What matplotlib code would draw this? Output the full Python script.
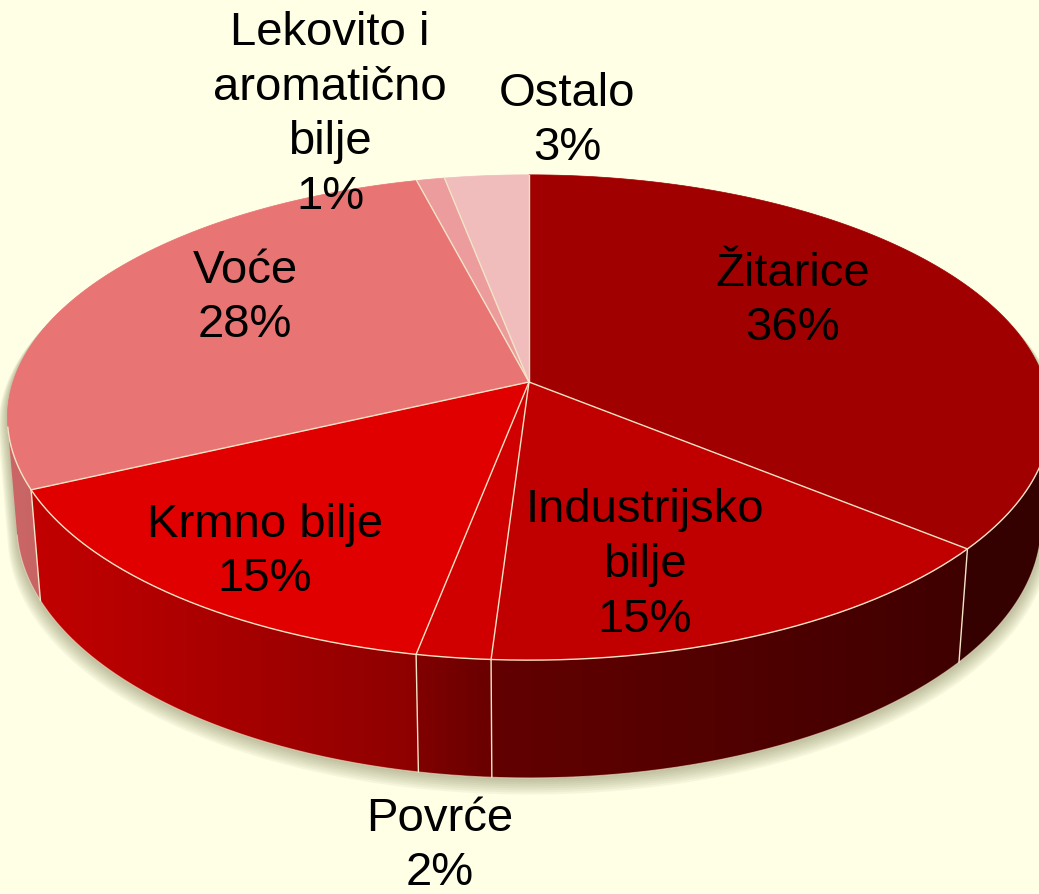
import numpy as np
import matplotlib.pyplot as plt
from matplotlib.patches import Polygon
from matplotlib.colors import to_rgb

# ── data ────────────────────────────────────────────────────────────────
categories = ["Žitarice", "Industrijsko\nbilje", "Povrće", "Krmno bilje",
              "Voće", "Lekovito i\naromatično\nbilje", "Ostalo"]
shares = [36, 15, 2, 15, 28, 1, 3]

# ── style ───────────────────────────────────────────────────────────────
TOP_COLORS = ["#A00000", "#C00000", "#D00000", "#E00000",
              "#E87474", "#EC9C9C", "#F0BCBC"]
BG = "#FFFFE6"
EDGE = "#F3E4C6"
SHADOW = "#7f7f55"

# label block centres in pixels (layout only)
LABEL_POS = [(793, 301), (645, 565), (440, 846), (265, 552),
             (245, 298), (330, 115), (567, 121)]

W, H = 1039, 895
CX, CY = 529, 383          # pie centre on the page
ELEV = np.radians(27.4)    # camera elevation
DIST = 6.07                # camera distance (pie radius = 1)
FOCAL = 3132
DEPTH = 0.235              # pie thickness


def project(x, y, z):
    c, s = np.cos(ELEV), np.sin(ELEV)
    d = DIST + y * c - z * s
    return CX + FOCAL * x / d, CY - FOCAL * (y * s + z * c) / d


def rim(t_deg, z):
    t = np.radians(t_deg)
    return project(np.cos(t), np.sin(t), z)


def wall_shade(px):
    return np.interp(px, [10, 405, 480, 960, 1040],
                     [0.88, 0.64, 0.52, 0.33, 0.33])


fig = plt.figure(figsize=(W / 100, H / 100), dpi=100)
fig.patch.set_facecolor(BG)
ax = fig.add_axes([0, 0, 1, 1])
ax.set_facecolor(BG)
ax.set_xlim(0, W)
ax.set_ylim(H, 0)
ax.axis("off")

# slice boundaries, clockwise from 12 o'clock
cum = np.concatenate([[0], np.cumsum(shares)]) / np.sum(shares)
bounds = 90 - 360 * cum

# visible part of the side wall
t_vis = np.degrees(np.arcsin(-1 / (DIST * np.cos(ELEV))))
vis_lo, vis_hi = -180 - t_vis, t_vis

# ── soft shadow under the pie ───────────────────────────────────────────
t_top = np.linspace(vis_hi, vis_lo + 360, 400)
t_bot = np.linspace(vis_lo, vis_hi, 400)
sx = np.concatenate([rim(t_top, 0)[0], rim(t_bot, -DEPTH)[0]])
sy = np.concatenate([rim(t_top, 0)[1], rim(t_bot, -DEPTH)[1]])
for k in range(8, 0, -1):
    grow = 1 + 0.0022 * k
    px = CX + (sx - CX) * grow
    py = CY + (sy - CY) * grow + 1.2 * k
    ax.add_patch(Polygon(np.column_stack([px, py]), closed=True,
                         facecolor=SHADOW, edgecolor="none",
                         alpha=0.07, zorder=1))

# ── side walls, shaded left to right ────────────────────────────────────
xgrid = np.arange(W + 1) + 0.5
shade = wall_shade(xgrid)[None, :, None]
for i in range(len(shares)):
    a0, a1 = bounds[i], bounds[i + 1]          # a0 > a1
    lo, hi = max(a1, vis_lo), min(a0, vis_hi)
    if hi <= lo:
        continue
    ts = np.linspace(lo, hi, 200)
    xt, yt = rim(ts, 0)
    xb, yb = rim(ts[::-1], -DEPTH)
    wall = Polygon(np.column_stack([np.r_[xt, xb], np.r_[yt, yb]]),
                   closed=True, facecolor="none", edgecolor="none")
    ax.add_patch(wall)
    img = np.clip(np.array(to_rgb(TOP_COLORS[i]))[None, None, :] * shade,
                  0, 1)
    im = ax.imshow(img, extent=[0, W + 1, H, 0], aspect="auto",
                   interpolation="bilinear", zorder=2)
    im.set_clip_path(wall)

# wall seams and rim lines
for b in bounds:
    bb = ((b + 270) % 360) - 270
    if vis_lo < bb < vis_hi:
        x0, y0 = rim(bb, 0)
        x1, y1 = rim(bb, -DEPTH)
        ax.plot([x0, x1], [y0, y1], color=EDGE, lw=1.0, zorder=3)
tr = np.linspace(vis_lo, vis_hi, 300)
ax.plot(*rim(tr, -DEPTH), color=EDGE, lw=0.8, alpha=0.6, zorder=3)

# ── top surface ─────────────────────────────────────────────────────────
for i in range(len(shares)):
    a0, a1 = bounds[i], bounds[i + 1]
    ts = np.linspace(a0, a1, max(int((a0 - a1) / 0.5), 2) + 1)
    xs, ys = rim(ts, 0)
    pts = np.column_stack([np.r_[CX, xs], np.r_[CY, ys]])
    ax.add_patch(Polygon(pts, closed=True, facecolor=TOP_COLORS[i],
                         edgecolor=TOP_COLORS[i], linewidth=0.5, zorder=4))
for b in bounds[:-1]:
    bx, by = rim(b, 0)
    ax.plot([CX, bx], [CY, by], color=EDGE, lw=1.0, zorder=4.5)
ax.plot(*rim(tr, 0), color=EDGE, lw=1.0, zorder=4.5)

# ── labels ──────────────────────────────────────────────────────────────
for name, val, (lx, ly) in zip(categories, shares, LABEL_POS):
    ax.text(lx, ly, f"{name}\n{val}%", ha="center", va="center",
            fontsize=34, family="Liberation Sans", color="black",
            linespacing=1.31, zorder=5)

fig.savefig("out.png", dpi=100, facecolor=BG)
